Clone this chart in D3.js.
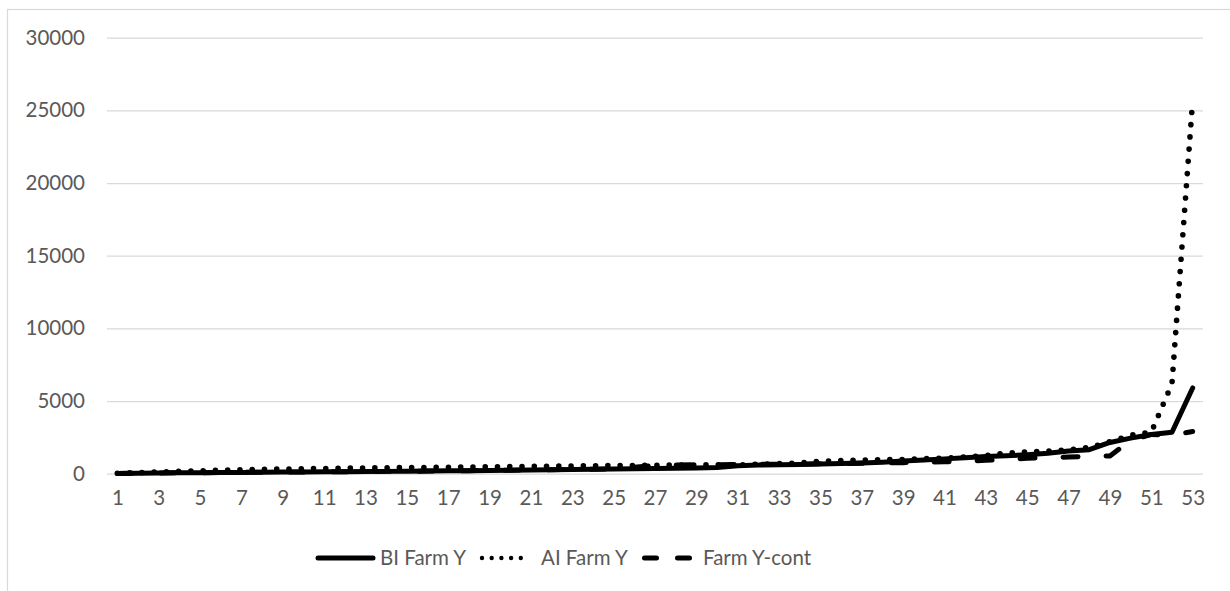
<!DOCTYPE html>
<html>
<head>
<meta charset="utf-8">
<script src="https://cdn.jsdelivr.net/npm/d3@7"></script>
<style>
  html, body { margin: 0; padding: 0; background: #fff; }
  svg { display: block; font-family: Lato, "Open Sans", sans-serif; }
</style>
</head>
<body>
<svg id="chart" width="1230" height="591"></svg>
<script>
// Category numbers along the x axis
const categories = [1, 2, 3, 4, 5, 6, 7, 8, 9, 10, 11, 12, 13, 14, 15, 16, 17, 18, 19, 20,
  21, 22, 23, 24, 25, 26, 27, 28, 29, 30, 31, 32, 33, 34, 35, 36, 37, 38, 39, 40,
  41, 42, 43, 44, 45, 46, 47, 48, 49, 50, 51, 52, 53];

// Series values, one per category
const biFarmY = [20, 35, 50, 60, 70, 80, 90, 100, 110, 120, 130, 140, 150, 160, 170, 180, 195, 210, 225, 240,
  255, 270, 290, 305, 320, 340, 360, 380, 400, 430, 540, 600, 620, 640, 670, 700, 740, 790, 870, 950,
  1020, 1090, 1180, 1240, 1300, 1400, 1560, 1650, 2150, 2450, 2700, 2850, 5900];

const aiFarmY = [30, 80, 120, 160, 200, 240, 270, 300, 320, 340, 360, 380, 400, 410, 420, 430, 445, 460, 475, 490,
  505, 520, 535, 550, 560, 570, 580, 590, 600, 620, 600, 650, 690, 740, 860, 900, 940, 960, 980, 1030,
  1080, 1150, 1250, 1420, 1500, 1560, 1650, 1800, 2200, 2650, 2850, 6200, 25700];

const farmYCont = [20, 35, 50, 60, 70, 80, 90, 100, 110, 120, 130, 140, 150, 160, 170, 180, 195, 210, 225, 240,
  255, 270, 290, 305, 330, 450, 580, 600, 610, 620, 630, 640, 650, 660, 680, 700, 720, 740, 760, 790,
  820, 860, 920, 990, 1060, 1110, 1150, 1200, 1220, 2300, 2700, 2650, 2900];

// Axis labels
const xTickLabels = [1, 3, 5, 7, 9, 11, 13, 15, 17, 19, 21, 23, 25, 27, 29, 31, 33, 35, 37, 39,
  41, 43, 45, 47, 49, 51, 53];
const yTicks = [0, 5000, 10000, 15000, 20000, 25000, 30000];
const seriesNames = ["BI Farm Y", "AI Farm Y", "Farm Y-cont"];

const svg = d3.select("#chart");
const plot = { left: 107, right: 1203, top: 37.7, bottom: 473.7 };
const textColor = "#595959";
const gridColor = "#d9d9d9";
const fontSize = 20.5;

// Chart frame
svg.append("rect")
  .attr("x", 7.5).attr("y", 9.5)
  .attr("width", 1400).attr("height", 800)
  .attr("fill", "#fff")
  .attr("stroke", gridColor)
  .attr("stroke-width", 1.2);

const x = d3.scalePoint().domain(categories).range([plot.left, plot.right]).padding(0.5);
const y = d3.scaleLinear().domain([0, 30000]).range([plot.bottom, plot.top]);

// Value axis with horizontal gridlines
const gy = svg.append("g")
  .attr("transform", `translate(${plot.left},0)`)
  .call(d3.axisLeft(y)
    .tickValues(yTicks)
    .tickSize(-(plot.right - plot.left))
    .tickPadding(22)
    .tickFormat(d => String(d)));
gy.select(".domain").remove();
gy.selectAll(".tick line").attr("stroke", gridColor).attr("stroke-width", 1.3);
gy.selectAll(".tick text")
  .attr("fill", textColor)
  .attr("font-size", fontSize)
  .attr("font-family", "Lato, 'Open Sans', sans-serif");

// Category axis labels
const gx = svg.append("g")
  .attr("transform", `translate(0,${plot.bottom})`)
  .call(d3.axisBottom(x)
    .tickValues(xTickLabels)
    .tickSize(0)
    .tickPadding(16.5));
gx.select(".domain").remove();
gx.selectAll(".tick text")
  .attr("fill", textColor)
  .attr("font-size", fontSize)
  .attr("font-family", "Lato, 'Open Sans', sans-serif");

// Series lines
const series = [
  { name: seriesNames[0], values: biFarmY, dash: null, width: 5 },
  { name: seriesNames[1], values: aiFarmY, dot: 12.3, width: 5.6 },
  { name: seriesNames[2], values: farmYCont, dash: "15,28", width: 5 }
];

const line = d3.line()
  .x((d, i) => x(categories[i]))
  .y(d => y(d));

const paths = svg.append("g").selectAll("path")
  .data(series)
  .join("path")
  .attr("d", s => line(s.values))
  .attr("fill", "none")
  .attr("stroke", "#000")
  .attr("stroke-width", s => s.width)
  .attr("stroke-linecap", "round")
  .attr("stroke-linejoin", "round")
  .attr("stroke-dasharray", s => s.dash || null);

// Space the round dots evenly so one lands on each end of the dotted line
paths.filter(s => s.dot).attr("stroke-dasharray", function (s) {
  const len = this.getTotalLength();
  const n = Math.max(1, Math.round(len / s.dot));
  return `0,${len / n}`;
});

// Legend
const legendY = 558;
const legendItems = [
  { name: seriesNames[0], x1: 318, x2: 373, tx: 380, dash: null, width: 5 },
  { name: seriesNames[1], x1: 482, x2: 530.5, tx: 541, dash: "0,9.7", width: 4.4 },
  { name: seriesNames[2], x1: 644.5, x2: 689.5, tx: 703, dash: "12,21", width: 5 }
];
const legend = svg.append("g");
legend.selectAll("line")
  .data(legendItems)
  .join("line")
  .attr("x1", d => d.x1).attr("x2", d => d.x2)
  .attr("y1", legendY).attr("y2", legendY)
  .attr("stroke", "#000")
  .attr("stroke-width", d => d.width)
  .attr("stroke-linecap", "round")
  .attr("stroke-dasharray", d => d.dash);
legend.selectAll("text")
  .data(legendItems)
  .join("text")
  .attr("x", d => d.tx)
  .attr("y", legendY)
  .attr("dy", "0.35em")
  .attr("fill", textColor)
  .attr("font-size", fontSize)
  .text(d => d.name);
</script>
</body>
</html>
